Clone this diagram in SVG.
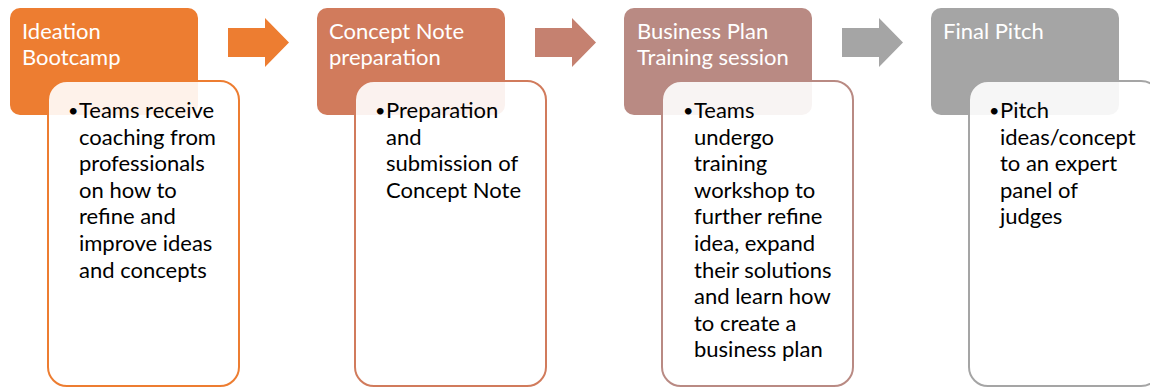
<svg xmlns="http://www.w3.org/2000/svg" width="1150" height="388" viewBox="0 0 1150 388">
  <style>
    .hdr { stroke: none; }
    .hdr-text { font-family: Lato, "Liberation Sans", sans-serif; font-size: 22px; fill: #ffffff; }
    .body { fill: #ffffff; fill-opacity: 0.9; stroke-width: 2; }
    .body-text { font-family: Lato, "Liberation Sans", sans-serif; font-size: 22px; fill: #000000; }
    .bullet { font-family: Lato, "Liberation Sans", sans-serif; font-size: 18px; fill: #000000; }
  </style>
  <rect width="1150" height="388" fill="#ffffff"/>

  <!-- connectors: block arrows between stages -->
  <g id="connectors">
    <path d="M228,28 H265 V18 L289,42.5 L265,67 V57 H228 Z" fill="#ED7D31"/>
    <path d="M535,28 H572 V18 L596,42.5 L572,67 V57 H535 Z" fill="#C58170"/>
    <path d="M842,28 H879 V18 L903,42.5 L879,67 V57 H842 Z" fill="#A5A5A5"/>
  </g>

  <!-- stage 1 -->
  <g id="stage-ideation">
    <rect class="hdr" x="10" y="8" width="188" height="107" rx="10" fill="#ED7D31"/>
    <text class="hdr-text" x="22" y="39">Ideation</text>
    <text class="hdr-text" x="22" y="65">Bootcamp</text>
    <rect class="body" x="48" y="81" width="191" height="305" rx="19" stroke="#ED7D31"/>
    <text class="bullet" x="68" y="117">•</text>
    <text class="body-text">
      <tspan x="79" y="118">Teams receive</tspan>
      <tspan x="79" y="144.6">coaching from</tspan>
      <tspan x="79" y="171.2">professionals</tspan>
      <tspan x="79" y="197.8">on how to</tspan>
      <tspan x="79" y="224.4">refine and</tspan>
      <tspan x="79" y="251">improve ideas</tspan>
      <tspan x="79" y="277.6">and concepts</tspan>
    </text>
  </g>

  <!-- stage 2 -->
  <g id="stage-concept-note">
    <rect class="hdr" x="317" y="8" width="188" height="107" rx="10" fill="#D17B5C"/>
    <text class="hdr-text" x="329" y="39">Concept Note</text>
    <text class="hdr-text" x="329" y="65">preparation</text>
    <rect class="body" x="355" y="81" width="191" height="305" rx="19" stroke="#D17B5C"/>
    <text class="bullet" x="375" y="117">•</text>
    <text class="body-text">
      <tspan x="386" y="118">Preparation</tspan>
      <tspan x="386" y="144.6">and</tspan>
      <tspan x="386" y="171.2">submission of</tspan>
      <tspan x="386" y="197.8">Concept Note</tspan>
    </text>
  </g>

  <!-- stage 3 -->
  <g id="stage-business-plan">
    <rect class="hdr" x="624" y="8" width="188" height="107" rx="10" fill="#B98A83"/>
    <text class="hdr-text" x="637" y="39">Business Plan</text>
    <text class="hdr-text" x="637" y="65">Training session</text>
    <rect class="body" x="662" y="81" width="191" height="305" rx="19" stroke="#B98A83"/>
    <text class="bullet" x="683" y="117">•</text>
    <text class="body-text">
      <tspan x="694" y="118">Teams</tspan>
      <tspan x="694" y="144.6">undergo</tspan>
      <tspan x="694" y="171.2">training</tspan>
      <tspan x="694" y="197.8">workshop to</tspan>
      <tspan x="694" y="224.4">further refine</tspan>
      <tspan x="694" y="251">idea, expand</tspan>
      <tspan x="694" y="277.6">their solutions</tspan>
      <tspan x="694" y="304.2">and learn how</tspan>
      <tspan x="694" y="330.8">to create a</tspan>
      <tspan x="694" y="357.4">business plan</tspan>
    </text>
  </g>

  <!-- stage 4 -->
  <g id="stage-final-pitch">
    <rect class="hdr" x="931" y="8" width="188" height="107" rx="10" fill="#A5A5A5"/>
    <text class="hdr-text" x="943" y="39">Final Pitch</text>
    <rect class="body" x="969" y="81" width="191" height="305" rx="19" stroke="#A5A5A5"/>
    <text class="bullet" x="989" y="117">•</text>
    <text class="body-text">
      <tspan x="1000" y="118">Pitch</tspan>
      <tspan x="1000" y="144.6">ideas/concept</tspan>
      <tspan x="1000" y="171.2">to an expert</tspan>
      <tspan x="1000" y="197.8">panel of</tspan>
      <tspan x="1000" y="224.4">judges</tspan>
    </text>
  </g>
</svg>
